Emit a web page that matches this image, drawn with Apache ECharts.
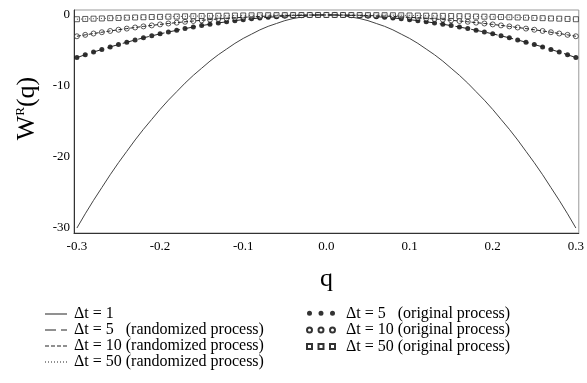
<!DOCTYPE html>
<html>
<head>
<meta charset="utf-8">
<script src="https://cdn.jsdelivr.net/npm/echarts@6/dist/echarts.min.js"></script>
<style>html,body{margin:0;padding:0;background:#fff}#c{width:587px;height:383px}</style>
</head>
<body>
<div id="c"></div>
<script>
var qValues = [-0.30,-0.29,-0.28,-0.27,-0.26,-0.25,-0.24,-0.23,-0.22,-0.21,-0.20,-0.19,-0.18,-0.17,-0.16,-0.15,-0.14,-0.13,-0.12,-0.11,-0.10,-0.09,-0.08,-0.07,-0.06,-0.05,-0.04,-0.03,-0.02,-0.01,0.00,0.01,0.02,0.03,0.04,0.05,0.06,0.07,0.08,0.09,0.10,0.11,0.12,0.13,0.14,0.15,0.16,0.17,0.18,0.19,0.20,0.21,0.22,0.23,0.24,0.25,0.26,0.27,0.28,0.29,0.30];
var w1 = [-30,-28.0,-26.1,-24.3,-22.5,-20.8,-19.2,-17.6,-16.1,-14.7,-13.3,-12.0,-10.8,-9.6,-8.5,-7.5,-6.5,-5.6,-4.8,-4.0,-3.3,-2.7,-2.1,-1.6,-1.2,-0.8,-0.5,-0.3,-0.1,0,0,0,-0.1,-0.3,-0.5,-0.8,-1.2,-1.6,-2.1,-2.7,-3.3,-4.0,-4.8,-5.6,-6.5,-7.5,-8.5,-9.6,-10.8,-12.0,-13.3,-14.7,-16.1,-17.6,-19.2,-20.8,-22.5,-24.3,-26.1,-28.0,-30];
var w5 = [-6,-5.6,-5.22,-4.86,-4.5,-4.16,-3.84,-3.52,-3.22,-2.94,-2.66,-2.4,-2.16,-1.92,-1.7,-1.5,-1.3,-1.12,-0.96,-0.8,-0.66,-0.54,-0.42,-0.32,-0.24,-0.16,-0.1,-0.06,-0.02,0,0,0,-0.02,-0.06,-0.1,-0.16,-0.24,-0.32,-0.42,-0.54,-0.66,-0.8,-0.96,-1.12,-1.3,-1.5,-1.7,-1.92,-2.16,-2.4,-2.66,-2.94,-3.22,-3.52,-3.84,-4.16,-4.5,-4.86,-5.22,-5.6,-6];
var w10 = [-3,-2.8,-2.61,-2.43,-2.25,-2.08,-1.92,-1.76,-1.61,-1.47,-1.33,-1.2,-1.08,-0.96,-0.85,-0.75,-0.65,-0.56,-0.48,-0.4,-0.33,-0.27,-0.21,-0.16,-0.12,-0.08,-0.05,-0.03,-0.01,0,0,0,-0.01,-0.03,-0.05,-0.08,-0.12,-0.16,-0.21,-0.27,-0.33,-0.4,-0.48,-0.56,-0.65,-0.75,-0.85,-0.96,-1.08,-1.2,-1.33,-1.47,-1.61,-1.76,-1.92,-2.08,-2.25,-2.43,-2.61,-2.8,-3];
var w50 = [-0.6,-0.56,-0.52,-0.49,-0.45,-0.42,-0.38,-0.35,-0.32,-0.29,-0.27,-0.24,-0.22,-0.19,-0.17,-0.15,-0.13,-0.11,-0.1,-0.08,-0.07,-0.05,-0.04,-0.03,-0.02,-0.02,-0.01,-0.01,0,0,0,0,0,-0.01,-0.01,-0.02,-0.02,-0.03,-0.04,-0.05,-0.07,-0.08,-0.1,-0.11,-0.13,-0.15,-0.17,-0.19,-0.22,-0.24,-0.27,-0.29,-0.32,-0.35,-0.38,-0.42,-0.45,-0.49,-0.52,-0.56,-0.6];
var xTicks = [-0.3,-0.2,-0.1,0.0,0.1,0.2,0.3];
var yTicks = [0,-10,-20,-30];
var lineNames = ['\u0394t = 1','\u0394t = 5   (randomized process)','\u0394t = 10 (randomized process)','\u0394t = 50 (randomized process)'];
var markNames = ['\u0394t = 5   (original process)','\u0394t = 10 (original process)','\u0394t = 50 (original process)'];

function pairs(arr){ return qValues.map(function(q,i){ return [q, arr[i]]; }); }
var serif = 'Liberation Serif';
var chart = echarts.init(document.getElementById('c'));
var dotsPath = 'path://M0,2.5a2.5,2.5 0 1,0 5,0a2.5,2.5 0 1,0 -5,0Z M11.5,2.5a2.5,2.5 0 1,0 5,0a2.5,2.5 0 1,0 -5,0Z M23,2.5a2.5,2.5 0 1,0 5,0a2.5,2.5 0 1,0 -5,0Z';
var sqPath = 'path://M0,0h5v5h-5Z M11.5,0h5v5h-5Z M23,0h5v5h-5Z';
var solidIcon = 'path://M0,0h22v1h-22Z';
var longDashIcon = 'path://M0,0h11v1h-11Z M16,0h6v1h-6Z';
var shortDashIcon = 'path://M0,0h4v1h-4Z M6,0h4v1h-4Z M12,0h4v1h-4Z M18,0h4v1h-4Z';
var dotIcon = 'path://M0,0h1v1h-1Z M3,0h1v1h-1Z M6,0h1v1h-1Z M9,0h1v1h-1Z M12,0h1v1h-1Z M15,0h1v1h-1Z M18,0h1v1h-1Z M21,0h1v1h-1Z';
var lineIcons = [solidIcon, longDashIcon, shortDashIcon, dotIcon];
var lineCommon = {type:'line', symbol:'none', smooth:false, silent:true, animation:false};
chart.setOption({
  animation:false,
  backgroundColor:'#fff',
  grid:{left:74, right:7, top:10, bottom:150, show:true, borderColor:'#999', borderWidth:1},
  xAxis:{type:'value', min:-0.3035, max:0.3035,
    name:'q', nameLocation:'middle', nameGap:33,
    nameTextStyle:{fontFamily:serif, fontSize:26, color:'#000'},
    axisLine:{show:true, onZero:false, lineStyle:{color:'#333', width:1}},
    axisTick:{show:false}, splitLine:{show:false},
    axisLabel:{customValues:xTicks, fontFamily:serif, fontSize:13, color:'#000', margin:7,
      formatter:function(v){ return v.toFixed(1); }}
  },
  yAxis:{type:'value', min:-30.7, max:0.7,
    name:'W{r|R}(q)', nameLocation:'middle', nameGap:34,
    nameTextStyle:{fontFamily:serif, fontSize:26, color:'#000', padding:[0,0,0,26],
      rich:{r:{fontFamily:serif, fontSize:13, color:'#000', verticalAlign:'top', padding:[0,0,10,0]}}},
    axisLine:{show:true, onZero:false, lineStyle:{color:'#333', width:1}},
    axisTick:{show:false}, splitLine:{show:false},
    axisLabel:{customValues:yTicks, fontFamily:serif, fontSize:13, color:'#000', margin:4,
      formatter:function(v){ return String(v); }}
  },
  legend:[
    {data:lineNames.map(function(n,i){ return {name:n, icon:lineIcons[i]}; }), orient:'vertical', left:45, top:306, padding:0,
      itemWidth:22, itemHeight:1, itemGap:0, itemStyle:{color:'#222'},
      textStyle:{fontFamily:serif, fontSize:16, color:'#000', lineHeight:15.3, padding:[0,0,0,2]}, selectedMode:false},
    {data:[{name:markNames[0], icon:dotsPath},{name:markNames[1], icon:dotsPath},{name:markNames[2], icon:sqPath}],
      orient:'vertical', left:306, top:305, padding:0, itemWidth:28, itemHeight:5, itemGap:0,
      textStyle:{fontFamily:serif, fontSize:16, color:'#000', lineHeight:16.6, padding:[0,0,0,6]}, selectedMode:false}
  ],
  series:[
    Object.assign({}, lineCommon, {name:lineNames[0], data:pairs(w1), lineStyle:{color:'#444', width:1, type:'solid'}, itemStyle:{color:'#444'}, z:2}),
    {type:'scatter', name:markNames[0], data:pairs(w5), symbol:'circle', symbolSize:5, itemStyle:{color:'#000'}, z:3},
    {type:'scatter', name:markNames[1], data:pairs(w10), symbol:'circle', symbolSize:5, itemStyle:{color:'#fff', borderColor:'#000', borderWidth:0.8}, z:3},
    {type:'scatter', name:markNames[2], data:pairs(w50), symbol:'rect', symbolSize:5, itemStyle:{color:'#fff', borderColor:'#000', borderWidth:0.8}, z:3},
    Object.assign({}, lineCommon, {name:lineNames[1], data:pairs(w5), lineStyle:{color:'#222', width:1, type:[11,5]}, itemStyle:{color:'#222'}, z:4}),
    Object.assign({}, lineCommon, {name:lineNames[2], data:pairs(w10), lineStyle:{color:'#222', width:1, type:[4,2]}, itemStyle:{color:'#222'}, z:4}),
    Object.assign({}, lineCommon, {name:lineNames[3], data:pairs(w50), lineStyle:{color:'#444', width:1, type:[1,3]}, itemStyle:{color:'#444'}, z:4})
  ]
});
</script>
</body>
</html>
